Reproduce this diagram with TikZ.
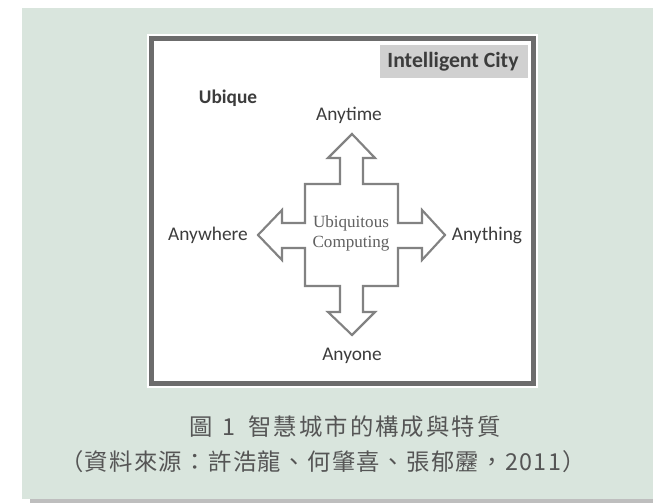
\documentclass[tikz,border=0pt]{standalone}
\usepackage{fontspec}
\usepackage{xcolor}
\usepackage{tikz}
\setmainfont{Carlito}
\newfontfamily\cjk[LetterSpace=6]{Noto Sans CJK TC}
\newfontfamily\serifcore{Liberation Serif}
\definecolor{panel}{RGB}{217, 229, 221}
\definecolor{shadow}{RGB}{190, 190, 190}
\definecolor{frame}{RGB}{108, 108, 108}
\definecolor{label}{RGB}{60, 60, 60}
\definecolor{cross}{RGB}{130, 130, 130}
\definecolor{tag}{RGB}{208, 208, 208}
\definecolor{caption}{RGB}{85, 85, 85}

\begin{document}
\begin{tikzpicture}[x=0.75pt,y=0.75pt,yscale=-1,xscale=1,
  dirlabel/.style={inner sep=0.75pt, text=label, font=\fontsize{14.5}{16}\selectfont},
  boldlabel/.style={dirlabel, font=\fontsize{14.5}{16}\selectfont\bfseries},
  captext/.style={inner sep=0.75pt, text=caption, font=\fontsize{17.5}{20}\selectfont\cjk}]
\useasboundingbox (0,0) rectangle (653,503);

%Shape: Rectangle [panel]
\fill [shadow] (30,499) rectangle (653,503);
\fill [panel] (22,8) rectangle (653,499);
%Shape: Rectangle [white card]
\fill [white] (147,34) rectangle (538,388);
\draw [frame, line width=3.2] (151.5,38.5) rectangle (533.5,383.5);

%Shape: Rectangle [tag]
\fill [tag] (380,45) rectangle (528,78);

%Shape: Cross arrows
\draw [cross, line width=1.6, line join=miter]
  (305,184) -- (340,184) -- (340,158) -- (328,158) -- (352,134) -- (375,158) -- (363,158) -- (363,184)
  -- (398,184) -- (398,223) -- (422,223) -- (422,210) -- (445,235) -- (422,260) -- (422,248) -- (398,248)
  -- (398,286) -- (363,286) -- (363,312) -- (375,312) -- (352,335) -- (328,312) -- (340,312) -- (340,286)
  -- (305,286) -- (305,248) -- (282,248) -- (282,260) -- (258,235) -- (282,210) -- (282,223) -- (305,223) -- cycle;

% Text Node
\node [boldlabel, font=\fontsize{16.3}{18}\selectfont\bfseries] (city) at (453,62) {Intelligent City};
% Text Node
\node [boldlabel] (ubique) at (228,98) {Ubique};
% Text Node
\node [dirlabel] (anytime) at (349,115) {Anytime};
% Text Node
\node [dirlabel] (anywhere) at (208,235) {Anywhere};
% Text Node
\node [dirlabel] (anything) at (487,235) {Anything};
% Text Node
\node [dirlabel] (anyone) at (352,356) {Anyone};
% Text Node
\node [inner sep=0.75pt, text=black!62, align=center, font=\fontsize{12.8}{15}\selectfont\serifcore] (core) at (351,233) {Ubiquitous\\Computing};

% Text Node
\node [captext] (title) at (345,427) {\addfontfeature{LetterSpace=9}圖\hspace{7pt}1\hspace{10pt}智慧城市的構成與特質};
% Text Node
\node [captext] (source) at (323,462) {（資料來源：許浩龍、何肇喜、張郁靂，2011）};

\end{tikzpicture}
\end{document}
